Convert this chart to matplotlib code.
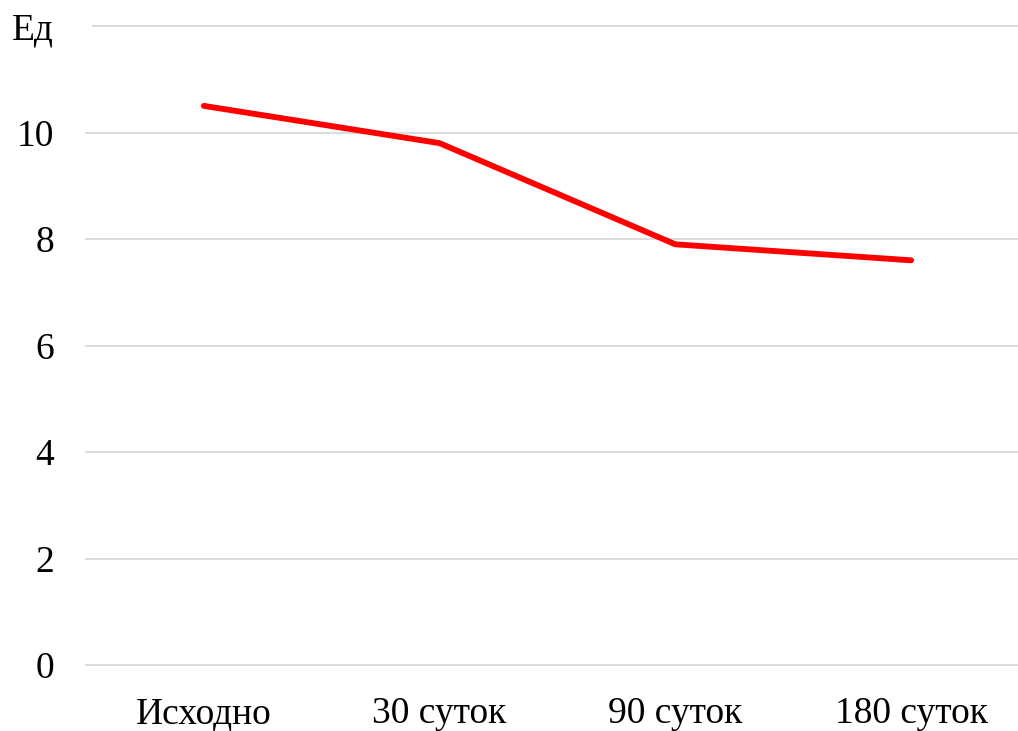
import matplotlib
matplotlib.use("Agg")
import matplotlib.pyplot as plt

# Data
categories = ["Исходно", "30 суток", "90 суток", "180 суток"]
values = [10.5, 9.8, 7.9, 7.6]
y_ticks = [0, 2, 4, 6, 8, 10, 12]
y_labels = ["0", "2", "4", "6", "8", "10", "Ед"]

plt.rcParams['font.family'] = ['Liberation Serif', 'DejaVu Serif']

fig = plt.figure(figsize=(10.18, 7.31), dpi=100)
ax = fig.add_axes([86 / 1018, 66 / 731, 943 / 1018, 639 / 731])

# Horizontal gridlines (top one starts a bit further right)
for t in y_ticks:
    xmin = 7 / 943 if t == y_ticks[-1] else 0
    ax.axhline(t, xmin=xmin, xmax=1, color="#d9d9d9", lw=1.3, zorder=1,
               clip_on=False)

x = list(range(len(categories)))
ax.plot(x, values, color="#ff0000", lw=4.2, solid_capstyle="round",
        solid_joinstyle="round", zorder=3)

ax.set_xlim(-0.5, len(categories) - 0.5)
ax.set_ylim(0, 12)
ax.set_xticks(x)
ax.set_xticklabels(categories, fontsize=27)
ax.set_yticks(y_ticks)
ax.set_yticklabels(y_labels, fontsize=27)
ax.tick_params(axis="both", length=0)
ax.tick_params(axis="y", pad=23)
ax.tick_params(axis="x", pad=23)
for s in ax.spines.values():
    s.set_visible(False)
ax.patch.set_alpha(0)

fig.savefig("out.png", dpi=100)
